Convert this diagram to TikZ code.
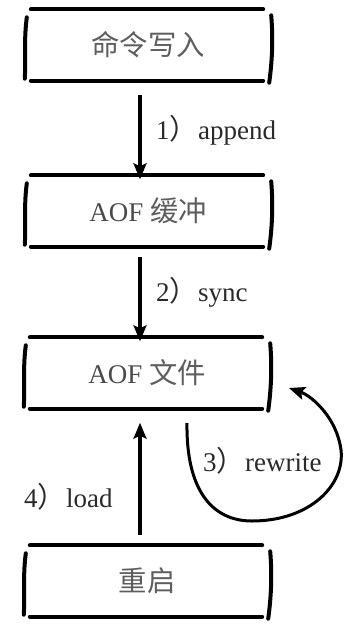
\documentclass[tikz,border=0pt]{standalone}
\usepackage{fontspec}
\setmainfont{Liberation Serif}
\newfontfamily\cjk{Noto Sans CJK SC}[Scale=1.05]
\usetikzlibrary{arrows.meta}
\definecolor{txtgray}{HTML}{4A4A4A}
\definecolor{cjkgray}{HTML}{5E5E5E}
\definecolor{lblgray}{HTML}{2A2A2A}
\tikzset{
  sketchbox/.style={minimum width=246pt, minimum height=71pt, inner sep=0pt, text=txtgray, font=\fontsize{27}{30}\selectfont},
  edgeline/.style={line width=4pt, line cap=round},
  flow/.style={line width=3.2pt, -{Stealth[length=16pt,width=13pt,inset=3pt]}},
  lbl/.style={text=lblgray, font=\fontsize{27}{30}\selectfont, anchor=west, inner sep=0pt}
}
\newcommand{\sketchframe}[1]{%
  \draw[edgeline] ([xshift=6pt]#1.north west) -- ([xshift=-8pt]#1.north east);
  \draw[edgeline] ([xshift=6pt]#1.south west) -- ([xshift=-8pt]#1.south east);
  \draw[edgeline] ([xshift=2pt,yshift=-8pt]#1.north west) .. controls ([xshift=-1pt,yshift=-30pt]#1.north west) and ([xshift=1pt,yshift=20pt]#1.south west) .. ([xshift=0pt,yshift=2pt]#1.south west);
  \draw[edgeline] ([xshift=0pt,yshift=-6pt]#1.north east) .. controls ([xshift=2pt,yshift=-30pt]#1.north east) and ([xshift=1pt,yshift=20pt]#1.south east) .. ([xshift=-2pt,yshift=-2pt]#1.south east);
}
\begin{document}
\begin{tikzpicture}[x=1pt,y=-1pt]
\useasboundingbox (0,0) rectangle (352,641);
\node[sketchbox] (cmd) at (148,45) {\color{cjkgray}\cjk 命令写入};
\node[sketchbox] (buf) at (148,211) {AOF {\color{cjkgray}\cjk 缓冲}};
\node[sketchbox] (file) at (147,373) {AOF {\color{cjkgray}\cjk 文件}};
\node[sketchbox] (restart) at (147,581) {\color{cjkgray}\cjk 重启};
\sketchframe{cmd}
\sketchframe{buf}
\sketchframe{file}
\sketchframe{restart}
\draw[flow] ([yshift=-14pt]cmd.south -| 140,0) -- ([yshift=-4pt]buf.north -| 140,0);
\draw[flow] ([yshift=-10pt]buf.south -| 140,0) -- ([yshift=-4pt]file.north -| 140,0);
\draw[flow] ([yshift=10pt]restart.north -| 140,0) -- ([yshift=-14pt]file.south -| 140,0);
\coordinate (rwstart) at (187,423);
\coordinate (rwend) at (289,388);
\draw[line width=3pt, -{Stealth[length=16pt,width=13pt,inset=3pt]}] (rwstart) .. controls (186,490) and (212,521) .. (252,521) .. controls (310,521) and (345,485) .. (341,450) .. controls (337,418) and (312,396) .. (rwend);
\node[lbl] (l1) at (156,130) {1{\cjk ）}append};
\node[lbl] (l2) at (156,292) {2{\cjk ）}sync};
\node[lbl] (l3) at (203,461) {3{\cjk ）}rewrite};
\node[lbl] (l4) at (24,497) {4{\cjk ）}load};
\end{tikzpicture}
\end{document}
